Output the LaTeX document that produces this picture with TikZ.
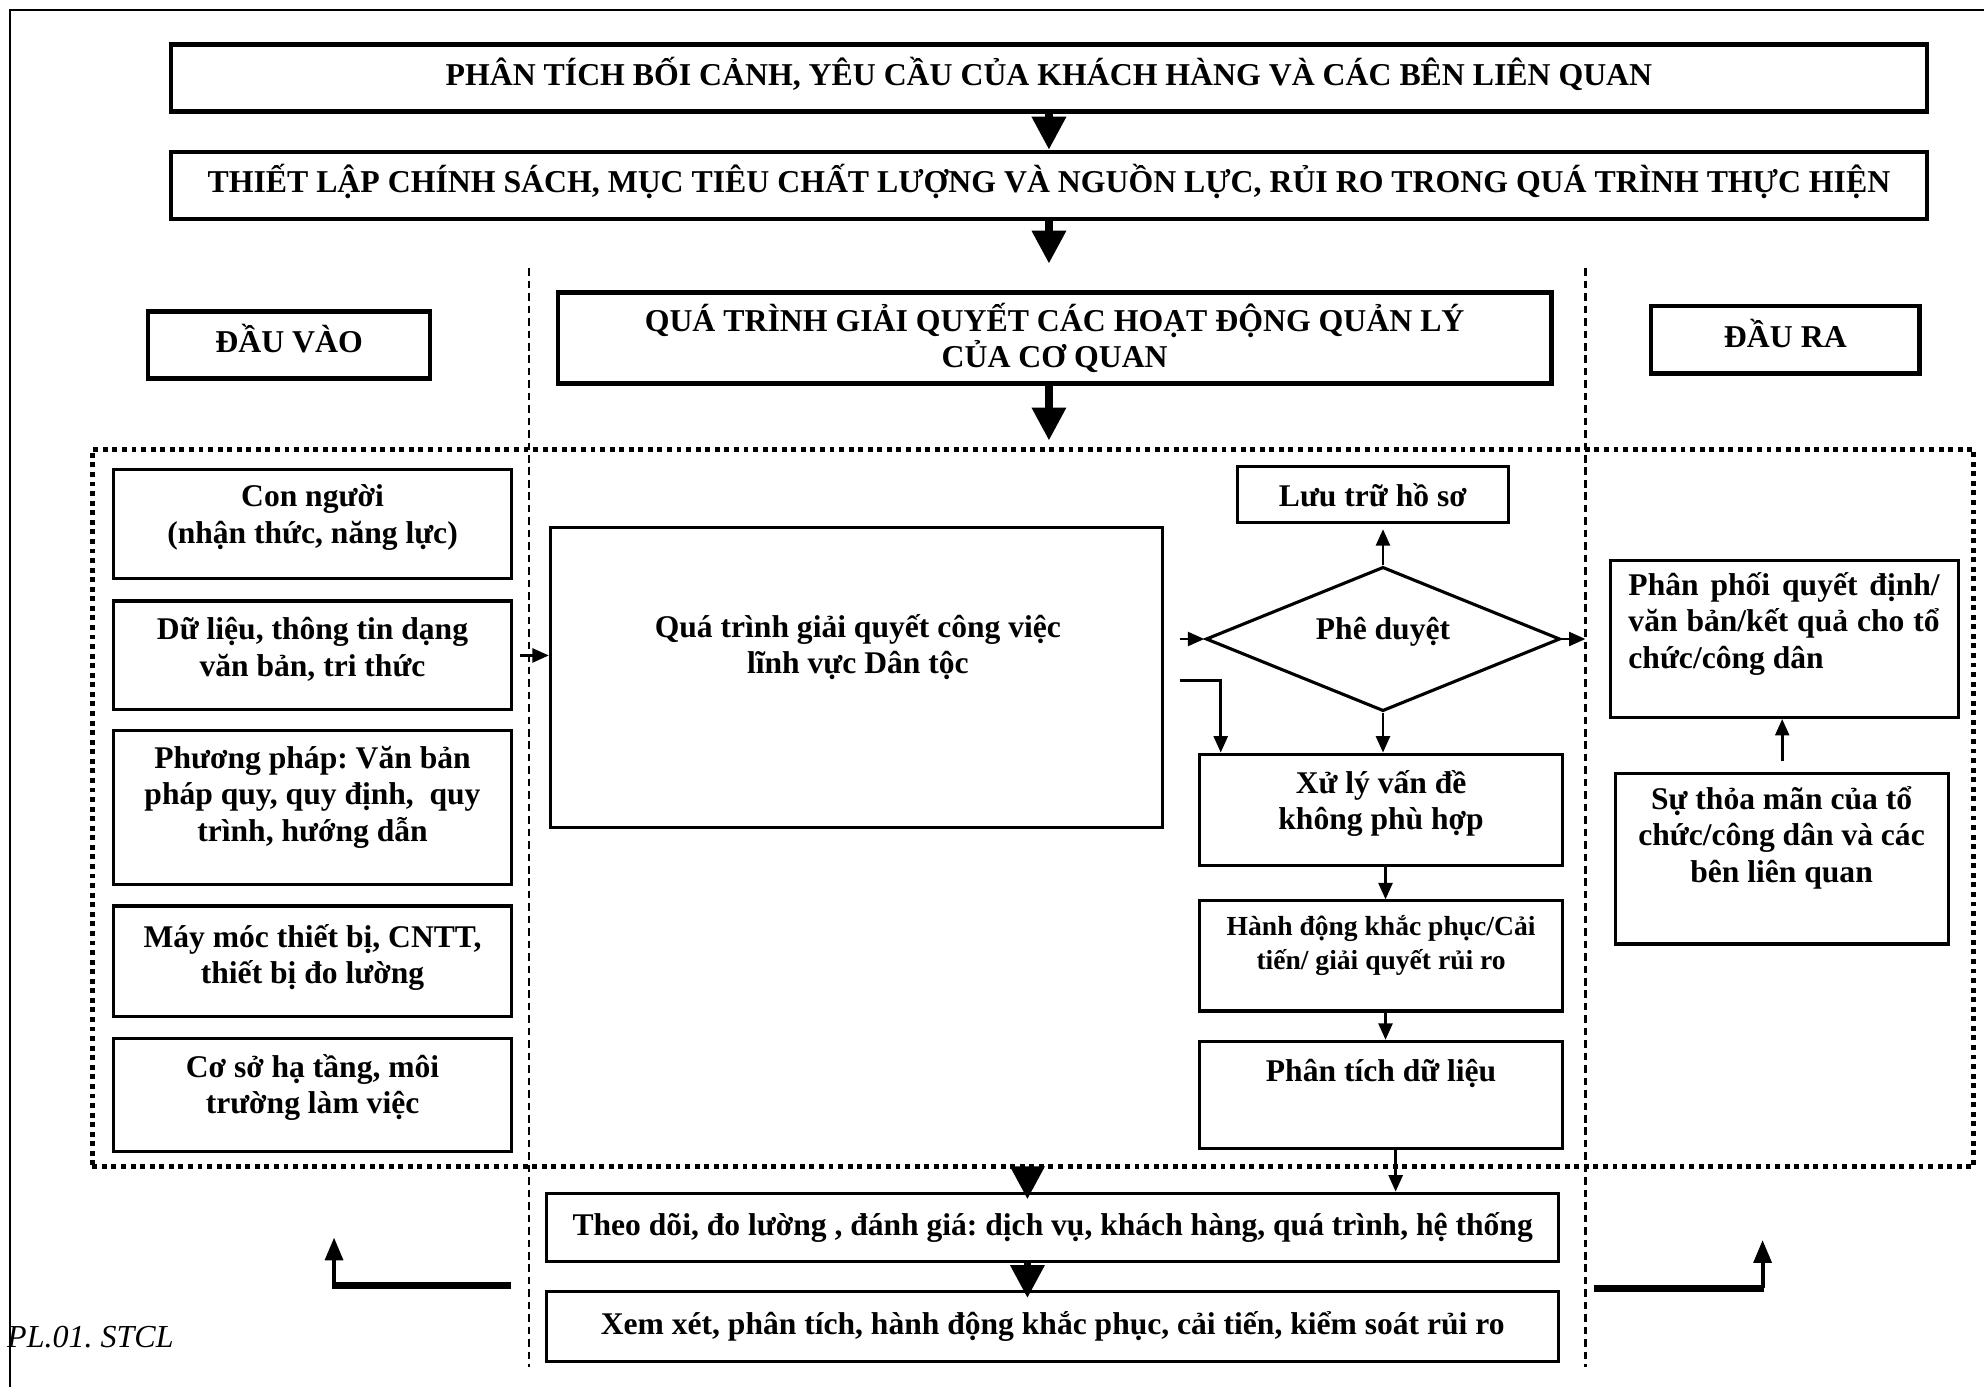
\documentclass[tikz,border=0pt]{standalone}
\usepackage{fontspec}
\setmainfont{Liberation Serif}
\frenchspacing
\usetikzlibrary{arrows.meta}
\usetikzlibrary{shapes.geometric}

\begin{document}
\begin{tikzpicture}[
  box/.style={draw,line width=0.7pt,inner sep=0pt,align=center,font=\bfseries\fontsize{7.1}{8.2}\selectfont},
  headbox/.style={draw,line width=1pt,inner sep=0pt,align=center,font=\bfseries\fontsize{7.15}{8.2}\selectfont},
  headline/.style={headbox,text height=6.5pt,text depth=3.2pt},
  txt/.style={inner sep=0pt,align=center,font=\bfseries\fontsize{7.1}{8.2}\selectfont},
  smalltxt/.style={txt,font=\bfseries\fontsize{6.2}{7.6}\selectfont},
  dotframe/.style={draw,line width=1.1pt,dash pattern=on 1.1pt off 1.05pt},
  divline/.style={line width=0.5pt,dash pattern=on 1.7pt off 1.1pt},
  bigarrow/.style={line width=1.6pt,-{Triangle[length=2.6mm,width=2.6mm]}},
  smallarrow/.style={line width=0.6pt,-{Triangle[length=1.3mm,width=1.1mm]}},
]
\useasboundingbox(0,0)rectangle(15.68,-10.96);
\draw[line width=0.6pt](0.08,-10.96)--(0.08,-0.08)--(15.68,-0.08);

% top of the model
\node[headline,minimum width=13.88cm,minimum height=0.53cm](context)at(8.29,-0.615){PHÂN TÍCH BỐI CẢNH, YÊU CẦU CỦA KHÁCH HÀNG VÀ CÁC BÊN LIÊN QUAN};
\node[headline,minimum width=13.88cm,minimum height=0.53cm](policy)at(8.29,-1.465){THIẾT LẬP CHÍNH SÁCH, MỤC TIÊU CHẤT LƯỢNG VÀ NGUỒN LỰC, RỦI RO TRONG QUÁ TRÌNH THỰC HIỆN};
\node[headline,minimum width=2.23cm,minimum height=0.53cm](input)at(2.285,-2.725){ĐẦU VÀO};
\node[headbox,minimum width=7.85cm,minimum height=0.72cm](process)at(8.335,-2.67){QUÁ TRÌNH GIẢI QUYẾT CÁC HOẠT ĐỘNG QUẢN LÝ\\CỦA CƠ QUAN};
\node[headline,minimum width=2.12cm,minimum height=0.53cm](output)at(14.11,-2.685){ĐẦU RA};

\coordinate(A)at(4.18,-2.12);
\coordinate(B)at(4.18,-10.80);
\coordinate(C)at(12.53,-2.12);
\coordinate(D)at(12.53,-10.80);
\draw[divline](A)--(B);
\draw[divline](C)--(D);

\node[dotframe,minimum width=14.87cm,minimum height=5.67cm](system)at(8.165,-6.385){};

\draw[bigarrow](context)--(policy);
\draw[bigarrow,shorten >=0.21cm](policy.south)--(policy.south|-process.north);
\draw[bigarrow,shorten >=0.05cm](policy.south|-process.south)--(policy.south|-system.north);

% inputs
\node[box,minimum width=3.14cm,minimum height=0.86cm](people)at(2.47,-4.14){};
\node[txt](peopletext)at([yshift=0.05cm]people.center){Con người\\(nhận thức, năng lực)};
\node[box,minimum width=3.14cm,minimum height=0.86cm](data)at(2.47,-5.18){};
\node[txt](datatext)at([yshift=0.05cm]data.center){Dữ liệu, thông tin dạng\\văn bản, tri thức};
\node[box,minimum width=3.14cm,minimum height=1.22cm](method)at(2.47,-6.38){};
\node[txt](methodtext)at([yshift=0.08cm]method.center){Phương pháp: Văn bản\\pháp quy, quy định,\ \ quy\\trình, hướng dẫn};
\node[box,minimum width=3.14cm,minimum height=0.87cm](machine)at(2.47,-7.595){};
\node[txt](machinetext)at([yshift=0.03cm]machine.center){Máy móc thiết bị, CNTT,\\thiết bị đo lường};
\node[box,minimum width=3.14cm,minimum height=0.89cm](infra)at(2.47,-8.655){};
\node[txt](infratext)at([yshift=0.06cm]infra.center){Cơ sở hạ tầng, môi\\trường làm việc};

% process
\node[box,minimum width=4.84cm,minimum height=2.37cm](work)at(6.77,-5.355){};
\node[txt](worktext)at(6.78,-5.115){Quá trình giải quyết công việc\\lĩnh vực Dân tộc};
\node[box,minimum width=2.14cm,minimum height=0.44cm](archive)at(10.85,-3.91){Lưu trữ hồ sơ};
\node[box,diamond,aspect=2.5,minimum width=2.8cm,minimum height=1.14cm,text height=0.2cm,text depth=0.2cm](approve)at(10.93,-5.05){Phê duyệt};
\node[box,minimum width=2.87cm,minimum height=0.88cm](nonconf)at(10.915,-6.40){};
\node[txt](nonconftext)at([yshift=0.05cm]nonconf.center){Xử lý vấn đề\\không phù hợp};
\node[box,minimum width=2.87cm,minimum height=0.87cm](action)at(10.915,-7.555){};
\node[smalltxt](actiontext)at([yshift=0.08cm]action.center){Hành động khắc phục/Cải\\tiến/ giải quyết rủi ro};
\node[box,minimum width=2.87cm,minimum height=0.85cm,text height=0.2cm,text depth=0.41cm](analysis)at(10.915,-8.655){Phân tích dữ liệu};

% outputs
\node[box,minimum width=2.75cm,minimum height=1.24cm](deliver)at(14.105,-5.05){};
\node[txt,align=left](delivertext)at(14.10,-4.93){\makebox[2.46cm][s]{Phân phối quyết định/}\\\makebox[2.46cm][s]{văn bản/kết quả cho tổ}\\chức/công dân};
\node[box,minimum width=2.63cm,minimum height=1.35cm](satisfy)at(14.085,-6.785){};
\node[txt](satisfytext)at(14.08,-6.62){Sự thỏa mãn của tổ\\chức/công dân và các\\bên liên quan};

% check and improve
\node[box,minimum width=8cm,minimum height=0.54cm](monitor)at(8.32,-9.70){Theo dõi, đo lường , đánh giá: dịch vụ, khách hàng, quá trình, hệ thống};
\node[box,minimum width=8cm,minimum height=0.55cm](review)at(8.32,-10.485){Xem xét, phân tích, hành động khắc phục, cải tiến, kiểm soát rủi ro};
\node[inner sep=0pt,anchor=west,font=\itshape\fontsize{7.2}{8}\selectfont](plcode)at(0.05,-10.57){PL.01. STCL};

\coordinate(E)at(12.53,-5.05);
\draw[smallarrow,shorten <=0.06cm](data.east)--(data.east-|work.west);
\draw[smallarrow,shorten <=0.12cm](work.east|-approve.west)--(approve.west);
\draw[smallarrow](approve.east)--(E);
\draw[smallarrow,shorten >=0.04cm](approve.north)--(approve.north|-archive.south);
\draw[smallarrow](approve.south)--(approve.south|-nonconf.north);
\draw[smallarrow]([xshift=0.12cm,yshift=-0.025cm]work.east)-|([xshift=0.18cm]nonconf.north west);
\draw[smallarrow]([xshift=0.035cm]nonconf.south)--([xshift=0.035cm]action.north);
\draw[smallarrow]([xshift=0.035cm]action.south)--([xshift=0.035cm]analysis.north);
\draw[smallarrow]([xshift=0.115cm]analysis.south)--([xshift=0.115cm]analysis.south|-monitor.north);
\draw[smallarrow,shorten <=0.08cm](satisfy.north)--(satisfy.north|-deliver.south);
\draw[bigarrow,shorten >=-0.06cm]([xshift=-0.2cm]monitor.north|-system.south)--([xshift=-0.2cm]monitor.north);
\draw[bigarrow,shorten >=-0.06cm]([xshift=-0.2cm]monitor.south)--([xshift=-0.2cm]review.north);

% feedback to inputs and outputs
\coordinate(F)at(4.04,-10.16);
\coordinate(G)at(2.64,-10.16);
\coordinate(H)at(2.64,-9.78);
\coordinate(I)at(12.60,-10.18);
\coordinate(J)at(13.93,-10.18);
\coordinate(K)at(13.93,-9.80);
\draw[line width=1.6pt](F)--([xshift=-0.4pt]G);
\draw[line width=0.9pt,-{Triangle[length=1.8mm,width=1.4mm]}](G)--(H);
\draw[line width=1.6pt](I)--([xshift=0.4pt]J);
\draw[line width=0.9pt,-{Triangle[length=1.8mm,width=1.4mm]}](J)--(K);
\end{tikzpicture}
\end{document}
